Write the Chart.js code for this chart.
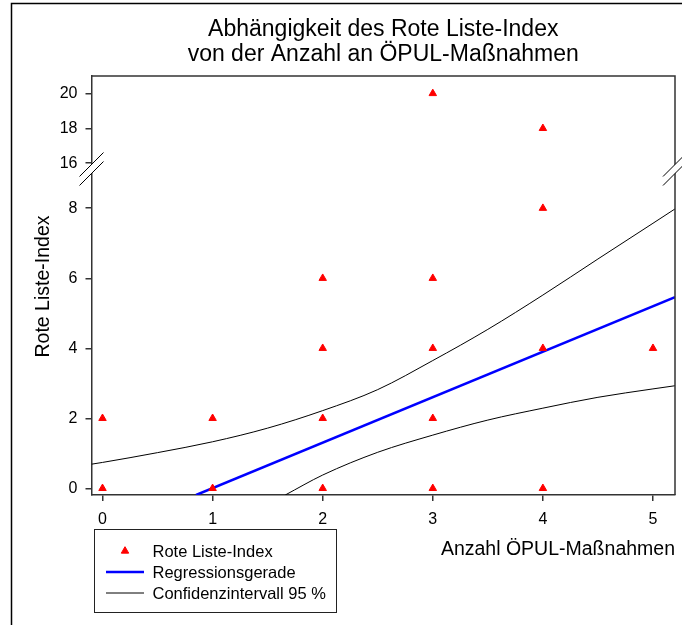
<!DOCTYPE html>
<html>
<head>
<meta charset="utf-8">
<script src="https://cdn.jsdelivr.net/npm/chart.js@4.4.1/dist/chart.umd.min.js"></script>
<style>
    html, body { margin: 0; padding: 0; background: #fff; }
    canvas { display: block; }
</style>
</head>
<body>
<canvas id="myChart" width="682" height="625"></canvas>
<script>
const titleLines = ['Abhängigkeit des Rote Liste-Index', 'von der Anzahl an ÖPUL-Maßnahmen'];
const xTitle = 'Anzahl ÖPUL-Maßnahmen';
const yTitle = 'Rote Liste-Index';

const xTicks = [0, 1, 2, 3, 4, 5];
const yLowerTicks = [0, 2, 4, 6, 8];
const yUpperTicks = [16, 18, 20];

// Rote Liste-Index values below the axis break
const pointsX = [0, 0, 1, 1, 2, 2, 2, 2, 3, 3, 3, 3, 4, 4, 4, 5];
const pointsY = [0, 2, 0, 2, 0, 2, 4, 6, 0, 2, 4, 6, 0, 4, 8, 4];
// values above the break
const highX = [3, 4];
const highY = [20, 18];

// Regressionsgerade (end points)
const regX = [0.85, 5.2];
const regY = [-0.19, 5.46];

// Confidenzintervall 95 %
const ciUpX = [-0.1, 0, 0.5, 1, 1.5, 2, 2.5, 3, 3.5, 4, 4.5, 5, 5.2];
const ciUpY = [0.69, 0.74, 1.02, 1.33, 1.72, 2.22, 2.82, 3.65, 4.54, 5.52, 6.55, 7.57, 7.98];
const ciLowX = [1.66, 2, 2.5, 3, 3.5, 4, 4.5, 5, 5.2];
const ciLowY = [-0.19, 0.38, 1.03, 1.52, 1.95, 2.29, 2.6, 2.84, 2.93];

const axisColor = '#333';
const red = '#ff0000';
const blue = '#0000ff';

Chart.defaults.font.family = '"Liberation Sans", Arial, sans-serif';
Chart.defaults.color = '#000';

function xy(xs, ys) {
    return xs.map((x, i) => ({x: x, y: ys[i]}));
}

function fixedTicks(values) {
    return function (axis) {
        axis.ticks = values.map(v => ({value: v}));
    }
}

const framePlugin = {
    id: 'frame',
    afterDraw(chart) {
        const ctx = chart.ctx;
        const a = chart.chartArea;
        ctx.save();

        // outer border
        ctx.strokeStyle = '#000';
        ctx.lineWidth = 1.5;
        ctx.strokeRect(11.5, 3.5, 700, 700);

        // top and right frame
        ctx.strokeStyle = axisColor;
        ctx.lineWidth = 1.5;
        ctx.beginPath();
        ctx.moveTo(a.left, a.top);
        ctx.lineTo(a.right, a.top);
        ctx.lineTo(a.right, a.bottom);
        ctx.stroke();

        // axis break marks
        const yb = chart.scales.y.top;
        [a.left, a.right].forEach(x0 => {
            ctx.fillStyle = '#fff';
            ctx.beginPath();
            ctx.moveTo(x0 - 3, yb - 4.5 + 3);
            ctx.lineTo(x0 + 3, yb - 4.5 - 3);
            ctx.lineTo(x0 + 3, yb + 4.5 - 3);
            ctx.lineTo(x0 - 3, yb + 4.5 + 3);
            ctx.closePath();
            ctx.fill();
            ctx.strokeStyle = '#000';
            ctx.lineWidth = 1;
            [-4.5, 4.5].forEach(d => {
                ctx.beginPath();
                ctx.moveTo(x0 - 12, yb + d + 12);
                ctx.lineTo(x0 + 12, yb + d - 12);
                ctx.stroke();
            });
        });

        // y axis title, centred on the whole plot height
        ctx.fillStyle = '#000';
        ctx.font = '19.5px "Liberation Sans", Arial, sans-serif';
        ctx.translate(44, (a.top + a.bottom) / 2 + 1);
        ctx.rotate(-Math.PI / 2);
        ctx.textAlign = 'center';
        ctx.textBaseline = 'middle';
        ctx.fillText(yTitle, 0, 0);
        ctx.restore();

        // legend box
        ctx.save();
        ctx.strokeStyle = '#222';
        ctx.lineWidth = 1;
        ctx.strokeRect(94.5, 529.5, 242, 83);
        ctx.font = '16.5px "Liberation Sans", Arial, sans-serif';
        ctx.textAlign = 'left';
        ctx.textBaseline = 'middle';
        let row = 551;
        chart.data.datasets.forEach(ds => {
            if (!ds.inLegend) return;
            if (ds.showLine) {
                ctx.strokeStyle = ds.borderColor;
                ctx.lineWidth = ds.borderWidth;
                ctx.beginPath();
                ctx.moveTo(106, row);
                ctx.lineTo(144, row);
                ctx.stroke();
            } else {
                ctx.fillStyle = ds.backgroundColor;
                ctx.strokeStyle = ds.borderColor;
                ctx.lineWidth = 1;
                Chart.helpers.drawPoint(ctx, {pointStyle: 'triangle', radius: 4.3, rotation: 0, borderWidth: 1}, 125, row);
            }
            ctx.fillStyle = '#000';
            ctx.fillText(ds.label, 152.5, row + 1);
            row += 21;
        });
        ctx.restore();
    }
};

const pointStyle = {
    showLine: false,
    pointStyle: 'triangle',
    pointRadius: 4.3,
    pointBorderWidth: 1,
    backgroundColor: red,
    borderColor: red
};

const data = {
    datasets: [
        Object.assign({label: 'Rote Liste-Index', inLegend: true, data: xy(pointsX, pointsY), yAxisID: 'y', order: 0}, pointStyle),
        Object.assign({label: 'Rote Liste-Index', data: xy(highX, highY), yAxisID: 'y2', order: 0}, pointStyle),
        {
            label: 'Regressionsgerade', inLegend: true, data: xy(regX, regY), yAxisID: 'y',
            showLine: true, borderColor: blue, borderWidth: 2.5, pointRadius: 0, order: 1
        },
        {
            label: 'Confidenzintervall 95 %', inLegend: true, data: xy(ciUpX, ciUpY), yAxisID: 'y',
            showLine: true, borderColor: '#000', borderWidth: 1, pointRadius: 0,
            cubicInterpolationMode: 'monotone', order: 2
        },
        {
            label: 'Confidenzintervall 95 %', data: xy(ciLowX, ciLowY), yAxisID: 'y',
            showLine: true, borderColor: '#000', borderWidth: 1, pointRadius: 0,
            cubicInterpolationMode: 'monotone', order: 2
        }
    ]
};

const yCommon = {
    type: 'linear',
    position: 'left',
    stack: 'broken',
    grid: {drawOnChartArea: false, tickLength: 6, color: axisColor, lineWidth: 1.5},
    border: {color: axisColor, width: 1.5},
    ticks: {padding: 8, color: '#000', font: {size: 16}, autoSkip: false},
    afterFit: function (axis) { axis.width = 50; }
};

new Chart(document.getElementById('myChart'), {
    type: 'scatter',
    data: data,
    options: {
        responsive: false,
        animation: false,
        events: [],
        layout: {padding: {left: 41.5, right: 7, top: 0, bottom: 0}},
        plugins: {
            legend: {display: false},
            tooltip: {enabled: false},
            title: {
                display: true,
                text: titleLines,
                fullSize: false,
                color: '#000',
                font: {size: 23, weight: 'normal', lineHeight: 25 / 23},
                padding: {top: 17.5, bottom: 8.5}
            }
        },
        scales: {
            x: {
                type: 'linear',
                min: -0.1,
                max: 5.2,
                afterBuildTicks: fixedTicks(xTicks),
                afterFit: function (axis) { axis.height = 130; },
                grid: {drawOnChartArea: false, tickLength: 6, color: axisColor, lineWidth: 1.5},
                border: {color: axisColor, width: 1.5},
                ticks: {padding: 9, color: '#000', font: {size: 16}, autoSkip: false, maxRotation: 0},
                title: {
                    display: true, text: xTitle, align: 'end', color: '#000',
                    font: {size: 19.5}, padding: {top: 0, bottom: 63.3}
                }
            },
            y: Object.assign({}, yCommon, {
                min: -0.19, max: 9.12, stackWeight: 326,
                afterBuildTicks: fixedTicks(yLowerTicks)
            }),
            y2: Object.assign({}, yCommon, {
                min: 15.67, max: 21, stackWeight: 93,
                afterBuildTicks: fixedTicks(yUpperTicks)
            })
        }
    },
    plugins: [framePlugin]
});
</script>
</body>
</html>
